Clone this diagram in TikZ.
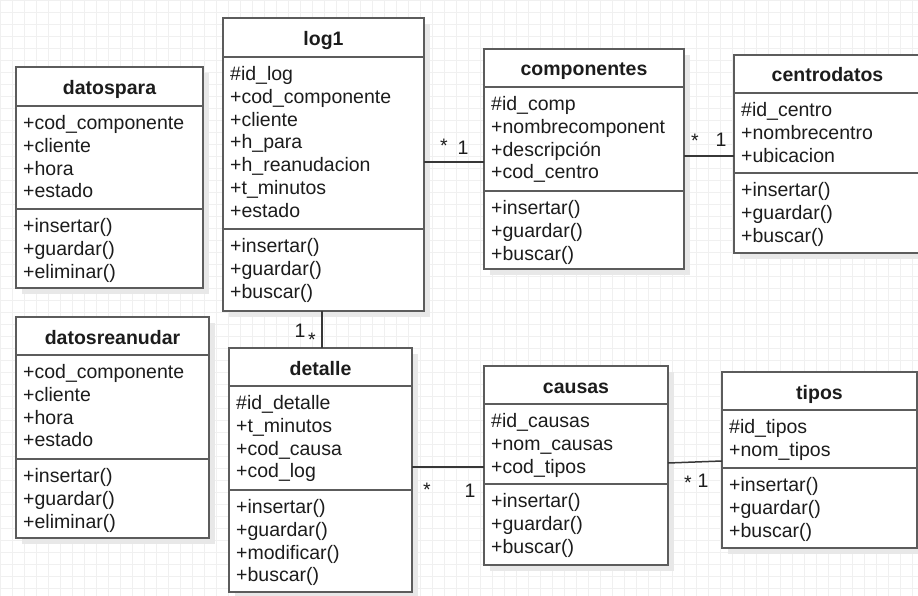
\documentclass[tikz,border=0pt]{standalone}
\usepackage{fontspec}
\setmainfont{Liberation Sans}
\begin{document}
\definecolor{gridcol}{RGB}{240,240,240}
\definecolor{shadowcol}{RGB}{232,232,232}
\definecolor{bordercol}{RGB}{92,92,92}
\definecolor{inkcol}{RGB}{28,28,28}
\definecolor{linkcol}{RGB}{55,55,55}
\tikzset{
  gridline/.style={draw=gridcol, line width=0.8pt},
  boxshadow/.style={fill=shadowcol},
  classbox/.style={draw=bordercol, fill=white, line width=2pt, inner sep=0pt, outer sep=0pt},
  boxline/.style={draw=bordercol, line width=2pt},
  titletext/.style={text=inkcol, inner sep=0pt, font=\fontsize{19.5}{23}\selectfont\bfseries},
  membertext/.style={text=inkcol, inner sep=0pt, font=\fontsize{19.5}{23}\selectfont},
  multtext/.style={text=inkcol, inner sep=0pt, anchor=base, font=\fontsize{19.5}{23}\selectfont},
  assoc/.style={draw=linkcol, line width=1.5pt},
}
% class box: name, left, top, right, bottom, header rule, member rule, title
\newcommand\umlclass[8]{%
  \fill[boxshadow] (#2+6,#3+6) rectangle (#4+6,#5+6);
  \node[classbox, anchor=north west, minimum width={#4-#2}, minimum height={#5-#3}] (#1) at (#2,#3) {};
  \draw[boxline] (#2,#6) -- (#4,#6);
  \draw[boxline] (#2,#7) -- (#4,#7);
  \node[titletext, anchor=base] (#1-title) at ({(#2+#4)/2},{(#3+#6)/2+8}) {#8};
}
% member lines: name prefix, left, first baseline, list
\newcommand\umllines[4]{%
  \foreach \t [count=\i from 0] in {#4}
    \node[membertext, anchor=base west] (#1-\i) at (#2,{#3+22.8*\i}) {\t};
}
\begin{tikzpicture}[x=1pt,y=-1pt]
\useasboundingbox (0,0) rectangle (918,596);
\fill[white] (0,0) rectangle (918,596);
\draw[gridline, step=12pt] (0,0) grid (918,596);

% datospara
\umlclass{datospara}{16}{67}{203}{288}{106}{209}{datospara}
\umllines{datospara-a}{23}{129.5}{+cod\_componente,+cliente,+hora,+estado}
\umllines{datospara-m}{23}{232.5}{+insertar(),+guardar(),+eliminar()}

% log1
\umlclass{log1}{223}{18}{424}{311}{57}{229}{log1}
\umllines{log1-a}{230}{80.5}{\#id\_log,+cod\_componente,+cliente,+h\_para,+h\_reanudacion,+t\_minutos,+estado}
\umllines{log1-m}{230}{252.5}{+insertar(),+guardar(),+buscar()}

% componentes
\umlclass{comp}{484}{49}{684}{269}{87}{191}{componentes}
\umllines{comp-a}{491}{110.5}{\#id\_comp,+nombrecomponent,+descripción,+cod\_centro}
\umllines{comp-m}{491}{214.5}{+insertar(),+guardar(),+buscar()}

% centrodatos
\umlclass{centro}{734}{55}{921}{253}{93}{173}{centrodatos}
\umllines{centro-a}{741}{116.5}{\#id\_centro,+nombrecentro,+ubicacion}
\umllines{centro-m}{741}{196.5}{+insertar(),+guardar(),+buscar()}

% datosreanudar
\umlclass{reanudar}{16}{317}{209}{538}{355}{459}{datosreanudar}
\umllines{reanudar-a}{23}{378.5}{+cod\_componente,+cliente,+hora,+estado}
\umllines{reanudar-m}{23}{482.5}{+insertar(),+guardar(),+eliminar()}

% detalle
\umlclass{detalle}{229}{348}{412}{592}{386}{490}{detalle}
\umllines{detalle-a}{236}{409.5}{\#id\_detalle,+t\_minutos,+cod\_causa,+cod\_log}
\umllines{detalle-m}{236}{513.5}{+insertar(),+guardar(),+modificar(),+buscar()}

% causas
\umlclass{causas}{484}{366}{668}{565}{404}{484}{causas}
\umllines{causas-a}{491}{427.5}{\#id\_causas,+nom\_causas,+cod\_tipos}
\umllines{causas-m}{491}{507.5}{+insertar(),+guardar(),+buscar()}

% tipos
\umlclass{tipos}{722}{372}{917}{548}{410}{468}{tipos}
\umllines{tipos-a}{729}{433.5}{\#id\_tipos,+nom\_tipos}
\umllines{tipos-m}{729}{491.5}{+insertar(),+guardar(),+buscar()}

% associations
\coordinate (lc) at ([yshift=2.5pt]log1.east);
\draw[assoc] (lc) -- (lc -| comp.west);
\coordinate (cc) at ([yshift=3pt]comp.east);
\draw[assoc] (cc) -- (cc -| centro.west);
\coordinate (ld) at ([xshift=-1.5pt]log1.south);
\draw[assoc] (ld) -- (ld |- detalle.north);
\coordinate (dc) at ([yshift=3pt]detalle.east);
\draw[assoc] (dc) -- (dc -| causas.west);
\draw[assoc] ([yshift=2.5pt]causas.east) -- ([yshift=-1pt]tipos.west);

% multiplicities
\node[multtext] (m-lc-many) at (444,153) {*};
\node[multtext] (m-lc-one) at (463,155) {1};
\node[multtext] (m-cc-many) at (695,148) {*};
\node[multtext] (m-cc-one) at (721,147) {1};
\node[multtext] (m-ld-one) at (300,337) {1};
\node[multtext] (m-ld-many) at (312,346) {*};
\node[multtext] (m-dc-many) at (427,496) {*};
\node[multtext] (m-dc-one) at (470,497) {1};
\node[multtext] (m-ct-many) at (688,489) {*};
\node[multtext] (m-ct-one) at (703,487) {1};
\end{tikzpicture}
\end{document}
